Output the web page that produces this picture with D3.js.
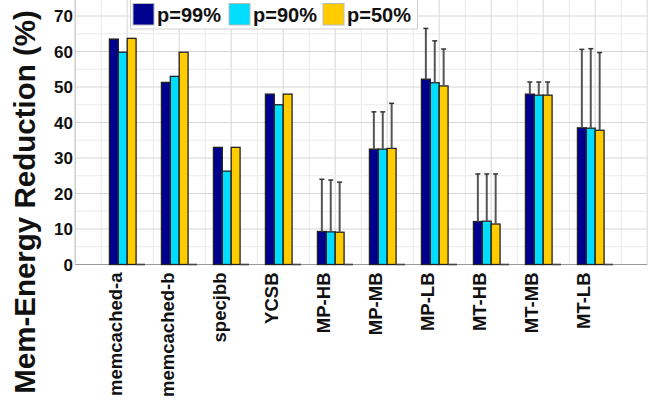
<!DOCTYPE html>
<html>
<head>
<meta charset="utf-8">
<script src="https://cdn.jsdelivr.net/npm/d3@7"></script>
<style>
  html, body { margin: 0; padding: 0; background: #fff; }
  svg { display: block; font-family: "Liberation Sans", Arial, Helvetica, sans-serif; }
</style>
</head>
<body>
<svg id="chart" width="654" height="409"></svg>
<script>
// Benchmarks on the x axis
const categories = ["memcached-a", "memcached-b", "specjbb", "YCSB", "MP-HB",
                    "MP-MB", "MP-LB", "MT-HB", "MT-MB", "MT-LB"];
const seriesNames = ["p=99%", "p=90%", "p=50%"];

// Memory energy reduction (%) per percentile
const p99 = [63.5, 51.3, 33.0, 48.0, 9.3, 32.5, 52.2, 12.1, 48.0, 38.5];
const p90 = [59.8, 53.0, 26.3, 45.0, 9.2, 32.5, 51.2, 12.2, 47.7, 38.4];
const p50 = [63.7, 59.8, 33.0, 48.0, 9.1, 32.7, 50.3, 11.4, 47.7, 37.8];
// Empty fourth slot in each group (drawn as a flat bar on the baseline)
const pad = [0, 0, 0, 0, 0, 0, 0, 0, 0, 0];

// Upper error extents (null = no error bar)
const p99Err = [null, null, null, null, 14.7, 10.5, 14.3, 13.4, 3.4, 22.1];
const p90Err = [null, null, null, null, 14.6, 10.5, 11.8, 13.3, 3.7, 22.4];
const p50Err = [null, null, null, null, 14.1, 12.7, 10.4, 14.1, 3.7, 21.9];

const yTicks = [0, 10, 20, 30, 40, 50, 60, 70];

const colors = ["#00008f", "#00ddff", "#ffcc00"];

const series = [
  { name: seriesNames[0], values: p99, err: p99Err, color: colors[0] },
  { name: seriesNames[1], values: p90, err: p90Err, color: colors[1] },
  { name: seriesNames[2], values: p50, err: p50Err, color: colors[2] }
];

const svg = d3.select("#chart");

// Groups sit at integer positions 1..10 on a [0, 11] axis
const x = d3.scaleLinear().domain([0, 11]).range([75.2, 647.2]);
const y = d3.scaleLinear().domain([0, 70]).range([264.5, 16]);
// Four slots per group (three series + an empty one)
const slot = d3.scaleBand().domain([0, 1, 2, 3]).range([-0.342, 0.342]);
const barW = x(slot.bandwidth()) - x(0);

const plotTop = 0;
const gGrid = svg.append("g");

// Minor + major grid
gGrid.selectAll("line.vx").data(d3.range(0, 11.001, 0.5)).join("line")
  .attr("x1", d => x(d)).attr("x2", d => x(d))
  .attr("y1", plotTop).attr("y2", y(0))
  .attr("stroke", d => Number.isInteger(d) ? "#d6d6d6" : "#ebebeb")
  .attr("stroke-width", 1);
gGrid.selectAll("line.hy").data(d3.range(5, 80, 5)).join("line")
  .attr("x1", x(0)).attr("x2", x(11))
  .attr("y1", d => y(d)).attr("y2", d => y(d))
  .attr("stroke", d => d % 10 === 0 ? "#d6d6d6" : "#ebebeb")
  .attr("stroke-width", 1);

// Axis lines
svg.append("line").attr("x1", x(0)).attr("x2", x(0)).attr("y1", plotTop).attr("y2", y(0))
  .attr("stroke", "#c8c8c8");
svg.append("line").attr("x1", x(0)).attr("x2", x(11)).attr("y1", y(0)).attr("y2", y(0))
  .attr("stroke", "#9a9a9a").attr("stroke-width", 1.2);

// Bars
const gBars = svg.append("g");
series.forEach((s, si) => {
  gBars.selectAll(null).data(s.values).join("rect")
    .attr("x", (d, i) => x(i + 1 + slot(si)))
    .attr("width", barW)
    .attr("y", d => y(d))
    .attr("height", d => y(0) - y(d))
    .attr("fill", s.color)
    .attr("stroke", "#222")
    .attr("stroke-width", 1.3);
});
// Zero-height fourth slot
gBars.selectAll(null).data(pad).join("line")
  .attr("x1", (d, i) => x(i + 1 + slot(3)))
  .attr("x2", (d, i) => x(i + 1 + slot(3)) + barW)
  .attr("y1", d => y(d)).attr("y2", d => y(d))
  .attr("stroke", "#444").attr("stroke-width", 1.6);

// Error bars (upper only)
const gErr = svg.append("g");
series.forEach((s, si) => {
  const pts = s.values.map((v, i) => ({ i, v, e: s.err[i] })).filter(d => d.e != null);
  const cx = d => x(d.i + 1 + slot(si)) + barW / 2;
  gErr.selectAll(null).data(pts).join("line")
    .attr("x1", cx).attr("x2", cx)
    .attr("y1", d => y(d.v)).attr("y2", d => y(d.v + d.e))
    .attr("stroke", "#555").attr("stroke-width", 2);
  gErr.selectAll(null).data(pts).join("line")
    .attr("x1", d => cx(d) - 2.5).attr("x2", d => cx(d) + 2.5)
    .attr("y1", d => y(d.v + d.e)).attr("y2", d => y(d.v + d.e))
    .attr("stroke", "#333").attr("stroke-width", 1.5);
});

// Y tick labels
svg.append("g").selectAll("text").data(yTicks).join("text")
  .attr("x", 73).attr("y", d => y(d))
  .attr("dy", "0.36em")
  .attr("text-anchor", "end")
  .attr("font-size", 17).attr("font-weight", "bold")
  .attr("fill", "#111")
  .text(d => d);

// X category labels (rotated)
svg.append("g").selectAll("text").data(categories).join("text")
  .attr("transform", (d, i) => `translate(${x(i + 1) - 5},${y(0) + 8}) rotate(-90)`)
  .attr("text-anchor", "end")
  .attr("font-size", 18.5).attr("font-weight", "bold")
  .attr("fill", "#111")
  .text(d => d);

// Y axis title
svg.append("text")
  .attr("transform", "translate(35,202) rotate(-90)")
  .attr("text-anchor", "middle")
  .attr("font-size", 29.5).attr("font-weight", "bold")
  .attr("fill", "#111")
  .text("Mem-Energy Reduction (%)");

// Legend
const lg = svg.append("g");
lg.append("rect").attr("x", 130.5).attr("y", -2).attr("width", 287).attr("height", 31)
  .attr("fill", "#fff").attr("stroke", "#cfcfcf");
const legendX = [133, 229, 323];
series.forEach((s, si) => {
  lg.append("rect").attr("x", legendX[si]).attr("y", 3.5).attr("width", 21).attr("height", 21.5)
    .attr("fill", s.color).attr("stroke", "#bbb").attr("stroke-width", 1);
  lg.append("text").attr("x", legendX[si] + 24).attr("y", 22)
    .attr("font-size", 20).attr("font-weight", "bold").attr("fill", "#111")
    .text(s.name);
});
</script>
</body>
</html>
